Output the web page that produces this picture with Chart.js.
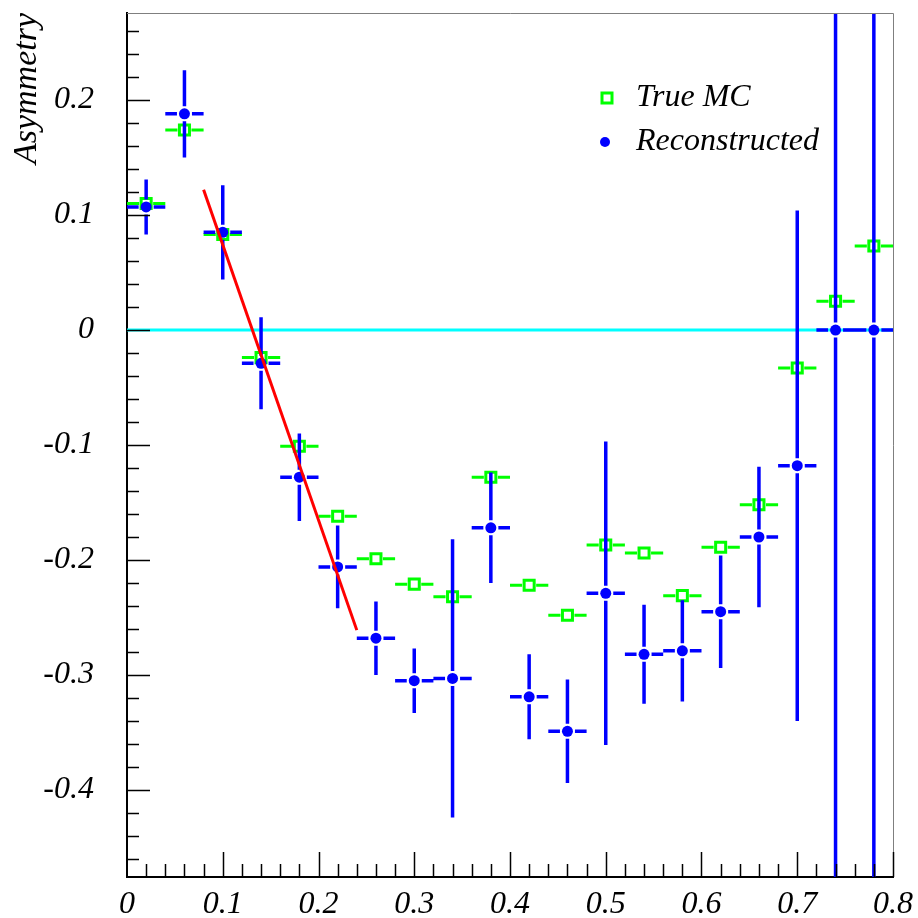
<!DOCTYPE html>
<html>
<head>
<meta charset="utf-8">
<script src="https://cdn.jsdelivr.net/npm/chart.js@4.4.1/dist/chart.umd.min.js"></script>
<style>
  html, body { margin: 0; padding: 0; background: #fff; }
  #wrap { width: 918px; height: 918px; }
</style>
</head>
<body>
<div id="wrap"><canvas id="asymChart" width="918" height="918"></canvas></div>
<script>
// ---- values ----
const binCenters = [0.02, 0.06, 0.10, 0.14, 0.18, 0.22, 0.26, 0.30, 0.34, 0.38,
                    0.42, 0.46, 0.50, 0.54, 0.58, 0.62, 0.66, 0.70, 0.74, 0.78];
const binHalfWidth = [0.02, 0.02, 0.02, 0.02, 0.02, 0.02, 0.02, 0.02, 0.02, 0.02,
                      0.02, 0.02, 0.02, 0.02, 0.02, 0.02, 0.02, 0.02, 0.02, 0.02];
const trueMC = [0.110, 0.174, 0.083, -0.024, -0.101, -0.162, -0.199, -0.221, -0.232, -0.128,
                -0.222, -0.248, -0.187, -0.194, -0.231, -0.189, -0.152, -0.033, 0.025, 0.073];
const reco = [0.107, 0.188, 0.085, -0.029, -0.128, -0.206, -0.268, -0.305, -0.303, -0.172,
              -0.319, -0.349, -0.229, -0.282, -0.279, -0.245, -0.180, -0.118, 0.0, 0.0];
const recoErr = [0.024, 0.038, 0.041, 0.040, 0.038, 0.036, 0.032, 0.028, 0.121, 0.048,
                 0.037, 0.045, 0.132, 0.043, 0.044, 0.049, 0.061, 0.222, 1.0, 1.0];

// straight-line fit over the first bins
const fitX = [0.08, 0.24];
const fitY = [0.122, -0.261];

// reference line at zero
const zeroX = [0, 0.8];
const zeroY = [0, 0];

const xTicks = [0, 0.1, 0.2, 0.3, 0.4, 0.5, 0.6, 0.7, 0.8];
const xTickLabels = ['0', '0.1', '0.2', '0.3', '0.4', '0.5', '0.6', '0.7', '0.8'];
const yTicks = [-0.4, -0.3, -0.2, -0.1, 0, 0.1, 0.2];
const yTickLabels = ['-0.4', '-0.3', '-0.2', '-0.1', '0', '0.1', '0.2'];

const legendLabels = ['True MC', 'Reconstructed'];

// ---- build chart data ----
const truePoints = binCenters.map(function (x, i) {
    return { x: x, y: trueMC[i], xErr: binHalfWidth[i], yErr: 0 };
});
const recoPoints = binCenters.map(function (x, i) {
    return { x: x, y: reco[i], xErr: binHalfWidth[i], yErr: recoErr[i] };
});
const fitPoints = fitX.map(function (x, i) { return { x: x, y: fitY[i] }; });
const zeroPoints = zeroX.map(function (x, i) { return { x: x, y: zeroY[i] }; });

const FONT = "'Liberation Serif', 'DejaVu Serif', serif";

// error bars (ROOT style, with a gap around the marker)
const errorBars = {
    id: 'errorBars',
    beforeDatasetDraw(chart, args) {
        const ds = chart.data.datasets[args.index];
        if (!ds.errBars) return;
        const ctx = chart.ctx, a = chart.chartArea;
        const xs = chart.scales.x, ys = chart.scales.y;
        const gap = ds.errBars.gap;
        ctx.save();
        ctx.beginPath();
        ctx.rect(a.left, a.top, a.right - a.left, a.bottom - a.top);
        ctx.clip();
        ctx.strokeStyle = ds.errBars.color;
        ctx.lineWidth = ds.errBars.width;
        ctx.lineCap = 'butt';
        ctx.beginPath();
        ds.data.forEach(function (p) {
            const px = xs.getPixelForValue(p.x);
            const py = ys.getPixelForValue(p.y);
            const xl = xs.getPixelForValue(p.x - p.xErr);
            const xr = xs.getPixelForValue(p.x + p.xErr);
            ctx.moveTo(xl, py); ctx.lineTo(px - gap, py);
            ctx.moveTo(px + gap, py); ctx.lineTo(xr, py);
            if (p.yErr > 0) {
                const yt = ys.getPixelForValue(p.y + p.yErr);
                const yb = ys.getPixelForValue(p.y - p.yErr);
                if (py - yt > gap) { ctx.moveTo(px, yt); ctx.lineTo(px, py - gap); }
                if (yb - py > gap) { ctx.moveTo(px, py + gap); ctx.lineTo(px, yb); }
            }
        });
        ctx.stroke();
        ctx.restore();
    }
};

// inward ticks, frame and legend
const frameAndLegend = {
    id: 'frameAndLegend',
    afterDraw(chart) {
        const ctx = chart.ctx, a = chart.chartArea;
        const xs = chart.scales.x, ys = chart.scales.y;
        ctx.save();

        // top / right frame
        ctx.strokeStyle = '#7f7f7f';
        ctx.lineWidth = 1;
        ctx.beginPath();
        ctx.moveTo(a.left, a.top + 0.5); ctx.lineTo(a.right + 0.5, a.top + 0.5);
        ctx.lineTo(a.right + 0.5, a.bottom);
        ctx.stroke();

        // ticks
        ctx.strokeStyle = '#000';
        ctx.lineWidth = 1.5;
        ctx.beginPath();
        for (let k = 1; k <= 40; k++) {
            const px = Math.round(xs.getPixelForValue(k * 0.02)) + 0.5;
            const len = k % 5 === 0 ? 25 : 13;
            ctx.moveTo(px, a.bottom); ctx.lineTo(px, a.bottom - len);
        }
        for (let k = -23; k <= 13; k++) {
            const py = Math.round(ys.getPixelForValue(k * 0.02)) + 0.5;
            const len = k % 5 === 0 ? 23 : 12;
            ctx.moveTo(a.left, py); ctx.lineTo(a.left + len, py);
        }
        ctx.stroke();

        // legend
        const lx = a.left + 480, ly1 = a.top + 85, ly2 = a.top + 129;
        ctx.strokeStyle = '#00ff00';
        ctx.lineWidth = 3;
        ctx.strokeRect(lx - 5, ly1 - 5, 10, 10);
        ctx.fillStyle = '#0000ff';
        ctx.beginPath();
        ctx.arc(lx - 2, ly2, 5, 0, Math.PI * 2);
        ctx.fill();
        ctx.fillStyle = '#000';
        ctx.font = 'italic 32px ' + FONT;
        ctx.textBaseline = 'middle';
        ctx.textAlign = 'left';
        ctx.fillText(legendLabels[0], lx + 29, ly1);
        ctx.fillText(legendLabels[1], lx + 29, ly2);
        ctx.restore();
    }
};

const ctx = document.getElementById('asymChart').getContext('2d');
new Chart(ctx, {
    type: 'scatter',
    data: {
        datasets: [
            {
                type: 'line',
                label: 'fit',
                data: fitPoints,
                borderColor: '#ff0000',
                borderWidth: 3,
                pointRadius: 0,
                order: 0
            },
            {
                label: legendLabels[1],
                data: recoPoints,
                pointStyle: 'circle',
                pointRadius: 5.5,
                backgroundColor: '#0000ff',
                borderWidth: 0,
                errBars: { color: '#0000ff', width: 3.5, gap: 7.5 },
                order: 1
            },
            {
                label: legendLabels[0],
                data: truePoints,
                pointStyle: 'rect',
                pointRadius: 7.1,
                backgroundColor: 'rgba(0,0,0,0)',
                borderColor: '#00ff00',
                borderWidth: 3,
                errBars: { color: '#00ff00', width: 3, gap: 7 },
                order: 2
            },
            {
                type: 'line',
                label: 'zero',
                data: zeroPoints,
                borderColor: '#00ffff',
                borderWidth: 3,
                pointRadius: 0,
                order: 3
            }
        ]
    },
    options: {
        responsive: false,
        animation: false,
        events: [],
        layout: { padding: { top: 13, right: 25, left: 0, bottom: 0 } },
        plugins: {
            legend: { display: false },
            tooltip: { enabled: false }
        },
        scales: {
            x: {
                type: 'linear',
                min: 0,
                max: 0.8,
                afterFit: function (scale) {
                    scale.height = 41;
                    scale.paddingLeft = 0;
                    scale.paddingRight = 0;
                },
                afterBuildTicks: function (scale) {
                    scale.ticks = xTicks.map(function (v) { return { value: v }; });
                },
                grid: { display: false },
                border: { display: true, color: '#000', width: 2 },
                ticks: {
                    autoSkip: false,
                    maxRotation: 0,
                    padding: 0,
                    color: '#000',
                    font: { family: FONT, size: 32, style: 'italic', lineHeight: 1.2 },
                    callback: function (v, i) { return xTickLabels[i]; }
                }
            },
            y: {
                type: 'linear',
                min: -0.4757,
                max: 0.2757,
                afterFit: function (scale) {
                    scale.width = 127;
                    scale.paddingTop = 0;
                    scale.paddingBottom = 0;
                },
                afterBuildTicks: function (scale) {
                    scale.ticks = yTicks.map(function (v) { return { value: v }; });
                },
                grid: { display: false },
                border: { display: true, color: '#000', width: 2 },
                title: {
                    display: true,
                    text: 'Asymmetry',
                    align: 'end',
                    color: '#000',
                    padding: { top: 10, bottom: 0 },
                    font: { family: FONT, size: 34, style: 'italic', lineHeight: 1 }
                },
                ticks: {
                    padding: 25,
                    color: '#000',
                    font: { family: FONT, size: 32, style: 'italic' },
                    callback: function (v, i) { return yTickLabels[i]; }
                }
            }
        }
    },
    plugins: [errorBars, frameAndLegend]
});
</script>
</body>
</html>
